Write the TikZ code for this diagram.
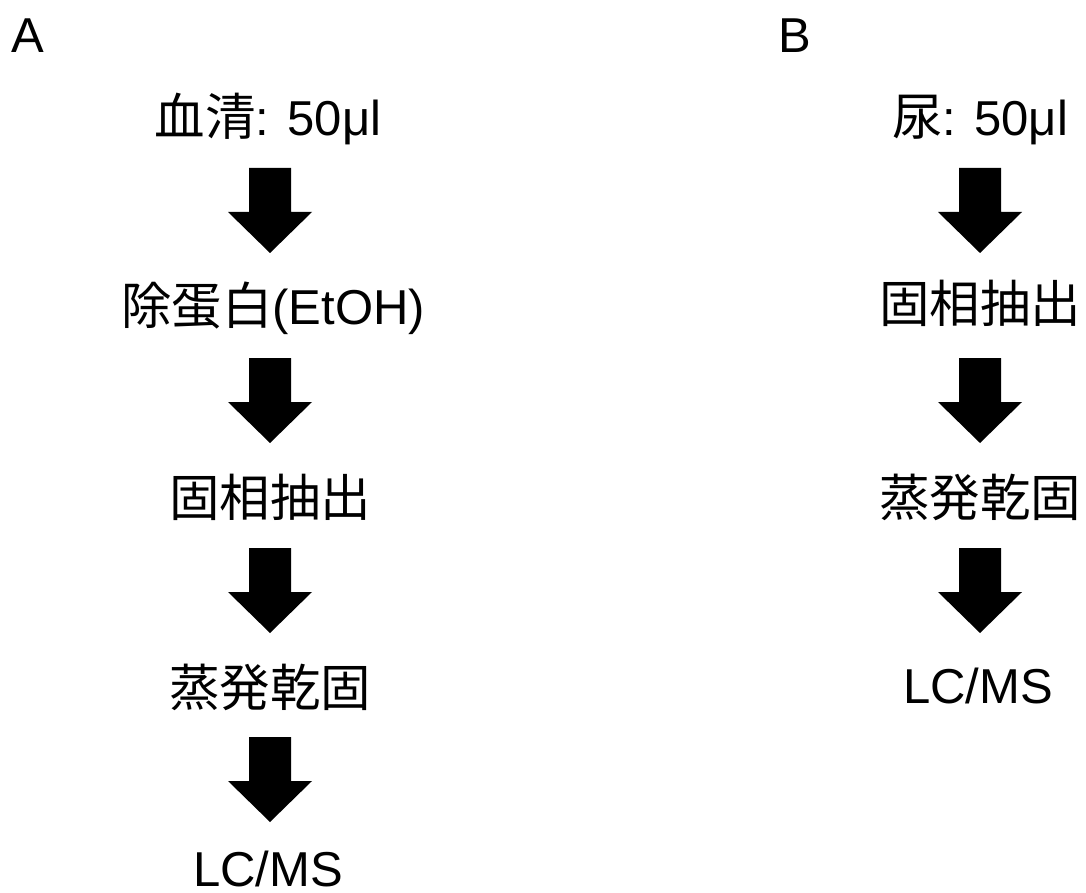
\documentclass[tikz,border=0pt]{standalone}
\usepackage{fontspec}
\setmainfont{Liberation Sans}
\newfontfamily\cjk[Scale=1.03]{Noto Sans CJK JP}
\tikzset{
  lbl/.style={anchor=base, inner sep=0pt, font=\fontsize{49}{59}\selectfont},
  panel/.style={anchor=base west, inner sep=0pt, font=\fontsize{49}{59}\selectfont},
  downarrow/.pic={\fill[black] (-21,0) -- (21,0) -- (21,44) -- (42,44) -- (0,85) -- (-42,44) -- (-21,44) -- cycle;}
}
\begin{document}
\begin{tikzpicture}[x=1pt,y=-1pt]
\useasboundingbox (0,0) rectangle (1086,893);
% panel labels
\node[panel] (labA) at (11,53) {A};
\node[panel] (labB) at (778,53) {B};
% column A
\node[lbl] (a1) at (268,136) {{\cjk 血清}: 50μl};
\node[lbl] (a2) at (273,324) {{\cjk 除蛋白}(EtOH)};
\node[lbl] (a3) at (270,516) {\cjk 固相抽出};
\node[lbl] (a4) at (270,706) {\cjk 蒸発乾固};
\node[lbl] (a5) at (268,886) {LC/MS};
\pic (arrA1) at (270,168) {downarrow};
\pic (arrA2) at (270,358) {downarrow};
\pic (arrA3) at (270,548) {downarrow};
\pic (arrA4) at (270,737) {downarrow};
% column B
\node[lbl] (b1) at (980,136) {{\cjk 尿}: 50μl};
\node[lbl] (b2) at (980,322) {\cjk 固相抽出};
\node[lbl] (b3) at (980,516) {\cjk 蒸発乾固};
\node[lbl] (b4) at (978,703) {LC/MS};
\pic (arrB1) at (980,168) {downarrow};
\pic (arrB2) at (980,358) {downarrow};
\pic (arrB3) at (980,548) {downarrow};
\end{tikzpicture}
\end{document}
